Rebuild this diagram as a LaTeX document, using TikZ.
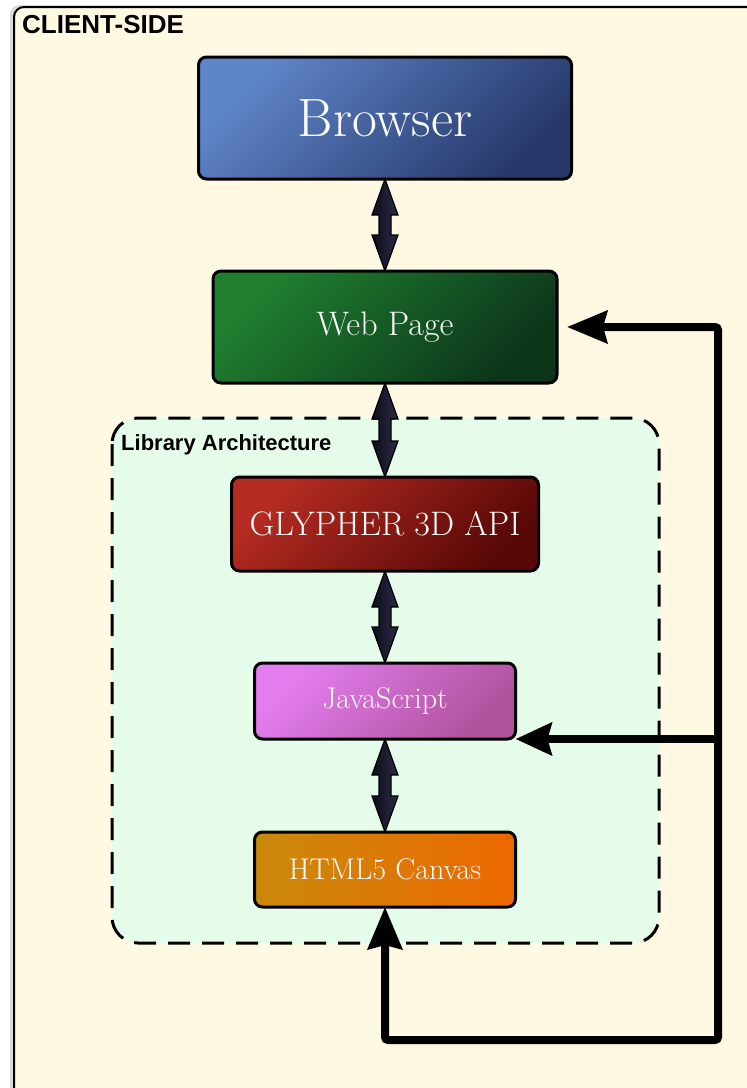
\documentclass[tikz,border=0pt]{standalone}
\usepackage{fontspec}
\setsansfont{Liberation Sans}
\usetikzlibrary{positioning}
\usetikzlibrary{calc}
\usetikzlibrary{arrows.meta}
\usetikzlibrary{shadows}

\definecolor{clientbg}{HTML}{FFF9E4}
\definecolor{libbg}{HTML}{E6FCEA}
\definecolor{arrowdark}{HTML}{0E0D1C}
\definecolor{arrowlight}{HTML}{2C2A44}
\definecolor{browserlight}{HTML}{5F85C9}
\definecolor{browserdark}{HTML}{27396A}
\definecolor{pagelight}{HTML}{1F7F2F}
\definecolor{pagedark}{HTML}{0C361A}
\definecolor{apilight}{HTML}{B52C22}
\definecolor{apidark}{HTML}{580806}
\definecolor{jslight}{HTML}{E47EF0}
\definecolor{jsdark}{HTML}{B0529C}
\definecolor{canvasleft}{HTML}{C98A0C}
\definecolor{canvasright}{HTML}{EE6800}

% fat two-headed arrow from the upper anchor #1 down to the lower anchor #2
\newcommand{\biarrow}[2]{%
    \path[biarrow] (#1) -- ($(#1)+(13,-36)$) -- ($(#1)+(6,-36)$)
        -- ($(#2)+(6,36)$) -- ($(#2)+(13,36)$) -- (#2)
        -- ($(#2)+(-13,36)$) -- ($(#2)+(-6,36)$)
        -- ($(#1)+(-6,-36)$) -- ($(#1)+(-13,-36)$) -- cycle;}

\begin{document}
\begin{tikzpicture}[x=1pt,y=1pt,
    block/.style={draw,line width=3pt,rounded corners=8pt,outer sep=0pt,
        inner sep=0pt,text=white!95!gray,minimum width=261pt,minimum height=76pt},
    diag/.style={top color=#1light,bottom color=#1dark,shading angle=45},
    biarrow/.style={draw,line width=1.2pt,line join=miter,
        left color=arrowdark,right color=arrowlight},
    feedback/.style={draw,line width=8pt,rounded corners=3pt,
        {Stealth[length=40pt,width=32pt,inset=4pt]}-{Stealth[length=42pt,width=34pt,inset=4pt]}},
    branch/.style={draw,line width=8pt,-{Stealth[length=36pt,width=32pt,inset=4pt]}},
    heading/.style={anchor=north west,inner sep=0pt}]

    \useasboundingbox (0,0) rectangle (747,-1088);
    \clip (0,0) rectangle (747,-1088);

    % client side frame
    \draw[line width=2pt,rounded corners=10pt,fill=clientbg,
        drop shadow={shadow xshift=-4pt,shadow yshift=2pt,opacity=0.3}]
        (14,-7) rectangle (775,-1110);
    \node[heading,font=\sffamily\bfseries\fontsize{26}{29}\selectfont] (client) at (22,-15) {CLIENT-SIDE};

    % library frame
    \draw[line width=3pt,dash pattern=on 22pt off 12pt,rounded corners=26pt,fill=libbg]
        (112,-418) rectangle (659,-943);
    \node[heading,font=\sffamily\bfseries\fontsize{22}{25}\selectfont] (library) at (121,-434) {Library Architecture};

    % blocks
    \node[block,diag=browser,minimum width=373pt,minimum height=122pt,
        font=\fontsize{54}{64}\selectfont] (browser) at (385,-118) {Browser};
    \node[block,diag=page,minimum width=344pt,minimum height=112pt,
        font=\fontsize{34}{40}\selectfont] (webpage) [below=92pt of browser] {Web Page};
    \node[block,diag=api,minimum width=307pt,minimum height=94pt,
        font=\fontsize{34}{40}\selectfont] (api) [below=94pt of webpage] {GLYPHER 3D API};
    \node[block,diag=js,
        font=\fontsize{30}{36}\selectfont] (jscript) [below=92pt of api] {JavaScript};
    \node[block,left color=canvasleft,right color=canvasright,minimum height=75pt,
        font=\fontsize{30}{36}\selectfont] (canvas) [below=93pt of jscript] {HTML5 Canvas};

    % links between the layers
    \biarrow{browser.south}{webpage.north}
    \biarrow{webpage.south}{api.north}
    \biarrow{api.south}{jscript.north}
    \biarrow{jscript.south}{canvas.north}

    % return path
    \coordinate (railbot) at (718,-1040);
    \draw[feedback,shorten <=10pt] (webpage.east) -| (railbot) -| (canvas.south);
    \draw[branch] (railbot |- jscript.south east) -- (jscript.south east);
\end{tikzpicture}
\end{document}
